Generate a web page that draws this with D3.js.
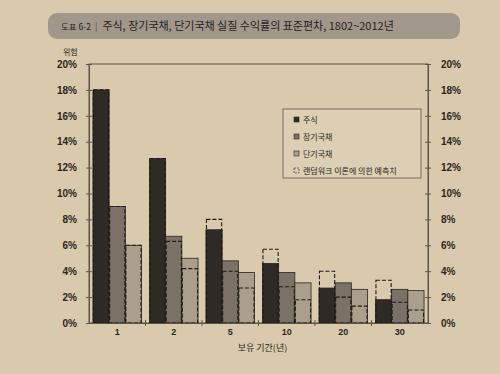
<!DOCTYPE html>
<html>
<head>
<meta charset="utf-8">
<script src="https://cdn.jsdelivr.net/npm/d3@7"></script>
<style>
  body { margin: 0; background: #d9caad; }
  svg { display: block; }
</style>
</head>
<body>
<svg width="500" height="374"></svg>
<script>
// holding periods (years)
const periods = ['1', '2', '5', '10', '20', '30'];
const seriesNames = ['주식', '장기국채', '단기국채'];
// standard deviation of real returns (%)
const stocks = [18.0, 12.7, 7.2, 4.6, 2.7, 1.8];
const bonds = [9.0, 6.7, 4.8, 3.9, 3.1, 2.6];
const bills = [6.0, 5.0, 3.9, 3.1, 2.6, 2.5];
// random walk predictions (%)
const rwStocks = [18.0, 12.7, 8.0, 5.7, 4.0, 3.3];
const rwBonds = [9.0, 6.3, 4.0, 2.8, 2.0, 1.6];
const rwBills = [6.0, 4.2, 2.7, 1.8, 1.3, 1.0];
const yTicks = [0, 2, 4, 6, 8, 10, 12, 14, 16, 18, 20];

const colors = ['#2e2a26', '#7b7167', '#aa9e8c'];
const values = [stocks, bonds, bills];
const rw = [rwStocks, rwBonds, rwBills];

const svg = d3.select('svg');

// title banner
svg.append('rect')
  .attr('x', 48).attr('y', 13)
  .attr('width', 412).attr('height', 26)
  .attr('rx', 9)
  .attr('fill', '#a1978a');
const title = svg.append('text')
  .attr('x', 61).attr('y', 30)
  .attr('font-family', '"Noto Sans CJK KR", sans-serif')
  .attr('fill', '#26221e');
title.append('tspan').attr('font-size', 8.5).text('도표 6-2');
title.append('tspan').attr('font-size', 9).attr('dx', 4).attr('fill', '#5a524a').text('|');
title.append('tspan').attr('font-size', 11).attr('dx', 5)
  .text('주식, 장기국채, 단기국채 실질 수익률의 표준편차, 1802~2012년');

const margin = {top: 64, right: 72, bottom: 51, left: 89};
const width = 500 - margin.left - margin.right;
const height = 374 - margin.top - margin.bottom;
const g = svg.append('g')
  .attr('transform', `translate(${margin.left},${margin.top})`);

const x = d3.scaleBand()
  .domain(periods)
  .range([0, width])
  .paddingInner(0.14)
  .paddingOuter(0.07);

const x1 = d3.scaleBand()
  .domain(d3.range(3))
  .range([0, x.bandwidth()]);

const y = d3.scaleLinear()
  .domain([0, 20])
  .range([height, 0]);

// frame
g.append('rect')
  .attr('width', width).attr('height', height)
  .attr('fill', 'none')
  .attr('stroke', '#5c544c').attr('stroke-width', 1);

// bars
const groups = g.selectAll('.grp')
  .data(periods)
  .enter().append('g')
    .attr('transform', d => `translate(${x(d)},0)`);

groups.selectAll('rect.bar')
  .data((d, i) => values.map((v, k) => ({k, v: v[i]})))
  .enter().append('rect')
    .attr('class', 'bar')
    .attr('x', d => x1(d.k))
    .attr('y', d => y(d.v))
    .attr('width', x1.bandwidth())
    .attr('height', d => y(0) - y(d.v))
    .attr('fill', d => colors[d.k])
    .attr('stroke', '#2a2521')
    .attr('stroke-width', 0.8);

// random walk dashed boxes
groups.selectAll('rect.rw')
  .data((d, i) => rw.map((v, k) => ({k, v: v[i]})))
  .enter().append('rect')
    .attr('class', 'rw')
    .attr('x', d => x1(d.k) + 0.5)
    .attr('y', d => y(d.v))
    .attr('width', x1.bandwidth() - 1)
    .attr('height', d => y(0) - y(d.v))
    .attr('fill', 'none')
    .attr('stroke', '#1e1a17')
    .attr('stroke-width', 1.1)
    .attr('stroke-dasharray', '4,2');

// axes
const tickFmt = d => d + '%';
const axisFont = '"Liberation Sans", Arial, sans-serif';

const left = g.append('g')
  .call(d3.axisLeft(y).tickValues(yTicks).tickFormat(tickFmt).tickSizeInner(4).tickSizeOuter(0).tickPadding(8));
const right = g.append('g')
  .attr('transform', `translate(${width},0)`)
  .call(d3.axisRight(y).tickValues(yTicks).tickFormat(tickFmt).tickSizeInner(4).tickSizeOuter(0).tickPadding(9));
[left, right].forEach(a => {
  a.select('.domain').attr('stroke', '#5c544c');
  a.selectAll('.tick line').attr('stroke', '#5c544c')
    .attr('x1', -3).attr('x2', 3);
  a.selectAll('text')
    .attr('font-family', axisFont)
    .attr('font-weight', 'bold')
    .attr('font-size', 10)
    .attr('fill', '#2a2521');
});

const bottom = g.append('g')
  .attr('transform', `translate(0,${height})`)
  .call(d3.axisBottom(x).tickSize(0).tickPadding(6));
bottom.select('.domain').attr('stroke', '#5c544c');
bottom.selectAll('text')
  .attr('font-family', axisFont)
  .attr('font-weight', 'bold')
  .attr('font-size', 9)
  .attr('fill', '#2a2521');
// group separators
bottom.selectAll('.sep')
  .data(periods.slice(1))
  .enter().append('line')
    .attr('x1', d => x(d) - x.step() * x.paddingInner() / 2)
    .attr('x2', d => x(d) - x.step() * x.paddingInner() / 2)
    .attr('y1', -3).attr('y2', 3)
    .attr('stroke', '#5c544c');

svg.append('text')
  .attr('x', 63).attr('y', 55)
  .attr('font-family', '"Noto Sans CJK KR", sans-serif')
  .attr('font-size', 8)
  .attr('fill', '#2a2521')
  .text('위험');

svg.append('text')
  .attr('x', margin.left + width / 2 + 4).attr('y', 351)
  .attr('text-anchor', 'middle')
  .attr('font-family', '"Noto Sans CJK KR", sans-serif')
  .attr('font-size', 9)
  .attr('fill', '#2a2521')
  .text('보유 기간(년)');

// legend
const legend = svg.append('g').attr('transform', 'translate(283,109)');
legend.append('rect')
  .attr('width', 138).attr('height', 69)
  .attr('fill', '#dccfb3')
  .attr('stroke', '#5c544c').attr('stroke-width', 0.8);
const items = seriesNames.concat(['랜덤워크 이론에 의한 예측치']);
const li = legend.selectAll('.item')
  .data(items)
  .enter().append('g')
    .attr('transform', (d, i) => `translate(11,${11 + i * 17})`);
li.append('rect')
  .attr('x', 0).attr('y', -3)
  .attr('width', 5).attr('height', 5)
  .attr('fill', (d, i) => i < 3 ? colors[i] : 'none')
  .attr('stroke', '#2a2521')
  .attr('stroke-width', 0.6)
  .attr('stroke-dasharray', (d, i) => i < 3 ? null : '2,1');
li.append('text')
  .attr('x', 9).attr('y', 3)
  .attr('font-family', '"Noto Sans CJK KR", sans-serif')
  .attr('font-size', 8)
  .attr('fill', '#2a2521')
  .text(d => d);
</script>
</body>
</html>
